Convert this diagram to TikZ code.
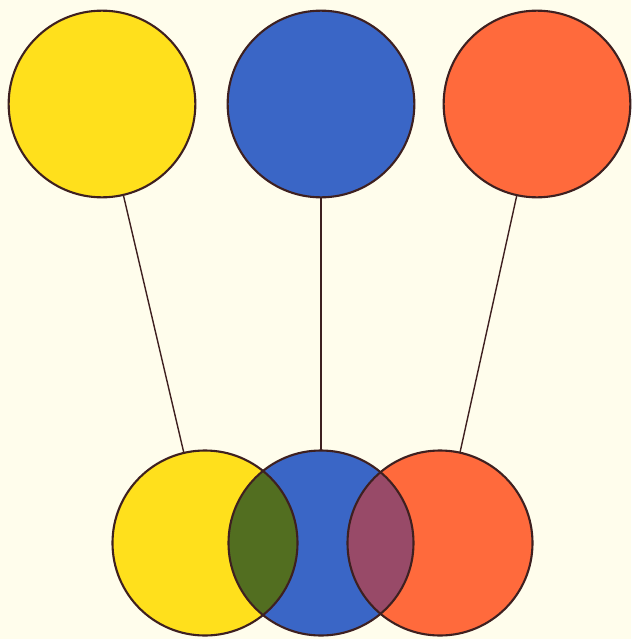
\documentclass[tikz,border=0pt]{standalone}
\usepackage{tikz}
\usetikzlibrary{positioning,calc}

\definecolor{paper}{RGB}{255,253,236}
\definecolor{ink}{RGB}{62,32,32}
\definecolor{yel}{RGB}{255,224,28}
\definecolor{blu}{RGB}{58,102,198}
\definecolor{org}{RGB}{255,106,60}
\definecolor{mixgreen}{RGB}{82,110,32}
\definecolor{mixpurple}{RGB}{152,74,104}

\begin{document}
\begin{tikzpicture}[
    x=0.03cm,
    y=-0.03cm,
    bigball/.style={
        circle,
        inner sep=0pt,
        minimum size=5.6cm
    },
    lowball/.style={
        circle,
        inner sep=0pt,
        minimum size=5.55cm
    },
    rim/.style={
        draw=ink,
        line width=1.8pt
    },
    string/.style={
        draw=ink,
        line width=1.2pt
    }
]

\fill[paper] (0,0) rectangle (631,639);
\useasboundingbox (0,0) rectangle (631,639);

%%%%%%%%%%%%%%%%%%%%%%%%%%%%%%%%%%%%%%%%%%%%%%%%%%%%
%% Primary colours
%%%%%%%%%%%%%%%%%%%%%%%%%%%%%%%%%%%%%%%%%%%%%%%%%%%%

\node[bigball,fill=yel] (ytop) at (102,104) {};
\node[bigball,fill=blu] (btop) at (321,104) {};
\node[bigball,fill=org] (otop) at (537,104) {};

%%%%%%%%%%%%%%%%%%%%%%%%%%%%%%%%%%%%%%%%%%%%%%%%%%%%
%% Overlapping circles
%%%%%%%%%%%%%%%%%%%%%%%%%%%%%%%%%%%%%%%%%%%%%%%%%%%%

\node[lowball,fill=yel] (ybot) at (205,543) {};
\node[lowball,fill=blu] (bbot) at (321,543) {};
\node[lowball,fill=org] (obot) at (440,543) {};

%%%%%%%%%%%%%%%%%%%%%%%%%%%%%%%%%%%%%%%%%%%%%%%%%%%%
%% Mixtures
%%%%%%%%%%%%%%%%%%%%%%%%%%%%%%%%%%%%%%%%%%%%%%%%%%%%

\begin{scope}
    \clip (ybot.center) circle (2.775cm);
    \fill[mixgreen] (bbot.center) circle (2.775cm);
\end{scope}

\begin{scope}
    \clip (obot.center) circle (2.775cm);
    \fill[mixpurple] (bbot.center) circle (2.775cm);
\end{scope}

%%%%%%%%%%%%%%%%%%%%%%%%%%%%%%%%%%%%%%%%%%%%%%%%%%%%
%% Outlines
%%%%%%%%%%%%%%%%%%%%%%%%%%%%%%%%%%%%%%%%%%%%%%%%%%%%

\foreach \b in {ytop,btop,otop}
    \draw[rim] (\b.center) circle (2.8cm);
\foreach \b in {ybot,bbot,obot}
    \draw[rim] (\b.center) circle (2.775cm);

%%%%%%%%%%%%%%%%%%%%%%%%%%%%%%%%%%%%%%%%%%%%%%%%%%%%
%% Strings
%%%%%%%%%%%%%%%%%%%%%%%%%%%%%%%%%%%%%%%%%%%%%%%%%%%%

\draw[string] (ytop) -- (ybot);
\draw[string] (btop) -- (bbot);
\draw[string] (otop) -- (obot);

\end{tikzpicture}
\end{document}
